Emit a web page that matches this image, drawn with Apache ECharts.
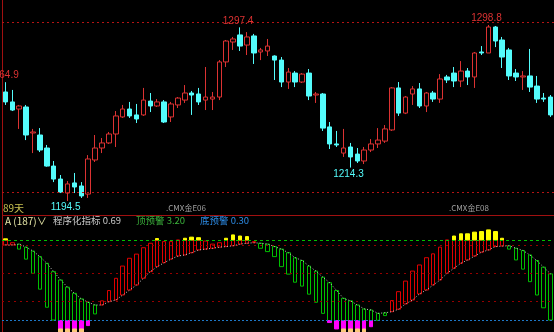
<!DOCTYPE html>
<html>
<head>
<meta charset="utf-8">
<script src="https://cdn.jsdelivr.net/npm/echarts@6/dist/echarts.min.js"></script>
<style>
html,body{margin:0;padding:0;background:#000;}
#main{width:554px;height:332px;}
</style>
</head>
<body>
<div id="main"></div>
<script>
// K线数据 (开,收,低,高)
var days = [];
for (var d = 1; d <= 80; d++) days.push(String(d));

var candleOpen = [1259.1,1253.2,1249.0,1250.2,1234.8,1233.6,1225.9,1215.2,1207.5,1199.2,
  1205.2,1203.4,1198.6,1218.8,1225.9,1228.9,1234.2,1244.3,1249.0,1245.5,
  1245.5,1253.7,1250.8,1253.2,1244.3,1251.4,1254.3,1258.5,1257.9,1254.3,
  1254.9,1256.1,1276.9,1288.7,1292.9,1286.9,1292.3,1282.8,1283.4,1280.4,
  1278.0,1265.0,1270.3,1265.0,1270.3,1257.3,1257.9,1238.4,1228.3,1222.9,
  1226.5,1222.3,1218.2,1224.7,1228.3,1230.0,1236.6,1261.5,1246.6,1257.9,
  1260.9,1250.8,1258.5,1254.9,1268.0,1270.3,1265.6,1271.5,1268.0,1282.8,
  1282.2,1297.6,1289.9,1284.0,1270.3,1268.0,1268.6,1262.6,1255.5,1256.1];
var candleClose = [1253.2,1248.4,1250.8,1233.6,1235.4,1224.7,1215.2,1207.5,1199.8,1204.6,
  1202.8,1197.5,1219.4,1225.9,1228.9,1234.2,1244.9,1249.0,1244.9,1243.1,
  1254.3,1250.8,1253.2,1241.3,1252.0,1255.5,1258.5,1257.3,1253.2,1256.1,
  1256.1,1276.9,1289.3,1290.5,1286.3,1291.7,1282.2,1284.0,1286.3,1278.0,
  1265.0,1270.9,1265.0,1269.7,1256.7,1257.9,1237.7,1228.3,1227.7,1225.9,
  1220.6,1218.2,1224.7,1228.3,1230.6,1237.2,1261.5,1246.6,1256.1,1260.9,
  1250.8,1258.5,1254.9,1266.8,1266.2,1265.6,1271.5,1268.0,1282.2,1282.2,
  1297.6,1289.3,1279.8,1268.6,1268.0,1268.6,1262.0,1254.9,1254.9,1245.5];
var candleLow = [1251.4,1247.8,1237.2,1230.6,1222.9,1223.5,1214.8,1205.7,1199.2,1194.5,
  1199.2,1196.3,1196.3,1217.6,1222.9,1228.3,1226.5,1243.7,1243.7,1240.7,
  1244.9,1247.2,1250.2,1240.7,1241.3,1249.6,1252.6,1245.5,1251.4,1248.4,
  1248.4,1254.3,1273.9,1284.0,1283.4,1281.0,1275.7,1278.0,1280.4,1266.2,
  1262.0,1260.9,1262.0,1264.4,1254.3,1252.6,1236.0,1225.3,1226.5,1220.6,
  1214.3,1217.0,1216.4,1223.5,1225.9,1228.9,1236.0,1244.9,1246.0,1251.4,
  1249.6,1247.2,1253.2,1252.6,1264.4,1262.0,1262.0,1263.2,1261.5,1281.0,
  1282.2,1285.7,1273.3,1266.2,1265.6,1260.3,1259.1,1252.6,1253.2,1244.3];
var candleHigh = [1264.9,1260.3,1251.4,1251.4,1237.2,1237.7,1227.7,1218.2,1209.9,1206.3,
  1211.1,1205.7,1221.7,1233.6,1231.8,1235.4,1247.8,1251.4,1253.2,1252.0,
  1261.5,1258.5,1254.9,1254.3,1253.2,1256.1,1263.2,1259.7,1261.5,1273.9,
  1259.1,1278.0,1289.9,1291.7,1297.4,1294.6,1293.5,1285.2,1290.5,1280.8,
  1279.8,1273.3,1271.5,1270.3,1272.7,1259.1,1258.5,1241.3,1236.0,1237.2,
  1228.9,1225.9,1226.5,1231.2,1237.7,1239.5,1262.0,1265.0,1256.7,1262.6,
  1264.4,1259.1,1259.7,1269.7,1269.2,1273.9,1277.4,1273.3,1282.8,1286.3,
  1298.8,1298.2,1291.7,1285.2,1272.7,1271.5,1284.6,1268.6,1258.5,1257.3];

// 标注的高低点
var highMarks = [0, 34, 70];
var lowMarks = [9, 50];

// 程序化指标: 平滑线 和 指标值
var indCurve = [3.02,3.02,3.05,2.94,2.80,2.60,2.36,2.06,1.76,1.50,
  1.28,1.08,0.96,0.86,0.86,0.98,1.04,1.22,1.40,1.58,
  1.82,2.06,2.24,2.38,2.51,2.62,2.66,2.74,2.84,2.87,
  2.90,2.94,2.96,2.99,3.05,3.08,3.10,3.08,3.05,2.96,
  2.87,2.74,2.56,2.46,2.26,2.08,1.86,1.66,1.38,1.10,
  1.01,0.86,0.72,0.68,0.56,0.58,0.62,0.71,0.90,1.04,
  1.26,1.40,1.58,1.76,2.00,2.18,2.36,2.48,2.62,2.76,
  2.84,2.96,2.98,2.99,2.90,2.82,2.66,2.46,2.22,1.98];
var indValue = [3.24,3.10,2.87,2.51,2.00,1.43,0.78,0.32,-0.12,-0.12,
  -0.12,-0.12,0.12,0.54,1.01,1.38,1.82,2.26,2.54,2.69,
  2.92,3.08,3.25,3.14,3.14,3.20,3.26,3.30,3.28,3.16,
  3.05,3.10,3.26,3.38,3.34,3.32,3.14,2.90,2.78,2.60,
  2.24,1.97,1.68,1.54,1.25,0.96,0.56,0.23,0.00,-0.12,
  -0.12,-0.12,-0.12,0.08,0.31,0.48,1.02,1.34,1.72,2.08,
  2.30,2.56,2.70,2.94,3.20,3.34,3.42,3.42,3.48,3.50,
  3.56,3.50,3.26,2.87,2.48,2.15,1.70,1.22,0.76,0.32];
var topWarn = 3.20;
var bottomWarn = 0.30;
var indGridLines = [3.0, 2.0, 1.0];
var priceGridLines = [1300.4, 1199.6];

var kData = candleOpen.map(function (o, i) {
  return [o, candleClose[i], candleLow[i], candleHigh[i]];
});

// 指标的空心框, 顶部黄柱, 底部紫柱
var boxData = [], yellowData = [], pinkData = [], tipData = [];
for (var i = 0; i < indValue.length; i++) {
  var c = indCurve[i], v = indValue[i];
  var e = Math.min(Math.max(v, bottomWarn), topWarn);
  boxData.push([c, e, Math.min(c, e), Math.max(c, e)]);
  yellowData.push(v > topWarn ? [topWarn, v, topWarn, v] : '-');
  if (v < bottomWarn) {
    var m = Math.max(v, 0);
    pinkData.push([bottomWarn, m, m, bottomWarn]);
  } else {
    pinkData.push('-');
  }
  tipData.push(v < 0 ? [0, v, v, 0] : '-');
}

var red = '#dc3232';
var cyan = '#54fcfc';

var markData = [];
highMarks.forEach(function (i) {
  markData.push({coord: [days[i], candleHigh[i]], value: candleHigh[i].toFixed(1),
    label: {position: 'top', color: red}});
});
lowMarks.forEach(function (i) {
  markData.push({coord: [days[i], candleLow[i]], value: candleLow[i].toFixed(1),
    label: {position: 'bottom', color: cyan}});
});

function hLines(vals, color, type) {
  return vals.map(function (v) {
    return {yAxis: v, lineStyle: {color: color, type: type, width: 1}};
  });
}

var chart = echarts.init(document.getElementById('main'), null, {renderer: 'canvas'});
var option = {
  backgroundColor: '#000',
  animation: false,
  grid: [
    {left: 2, right: 0, top: 0, height: 215},
    {left: 2, right: 0, top: 216, height: 116}
  ],
  xAxis: [
    {type: 'category', data: days, gridIndex: 0, show: false, boundaryGap: true},
    {type: 'category', data: days, gridIndex: 1, show: false, boundaryGap: true}
  ],
  yAxis: [
    {type: 'value', gridIndex: 0, min: 1186.2, max: 1313.6, show: false, splitLine: {show: false}},
    {type: 'value', gridIndex: 1, min: -0.11, max: 4.06, show: false, splitLine: {show: false}}
  ],
  series: [
    {
      type: 'candlestick',
      xAxisIndex: 0, yAxisIndex: 0,
      data: kData,
      barWidth: 5,
      itemStyle: {color: '#000', color0: cyan, borderColor: red, borderColor0: cyan, borderWidth: 1},
      markLine: {
        silent: true, symbol: ['none', 'none'], label: {show: false},
        data: hLines(priceGridLines, '#b41414', [2, 3])
      },
      markPoint: {
        symbol: 'circle', symbolSize: 1,
        itemStyle: {color: 'rgba(0,0,0,0)'},
        label: {show: true, fontSize: 10, fontFamily: 'Liberation Sans', distance: 1, offset: [-2, 0]},
        data: markData
      }
    },
    {
      type: 'candlestick',
      xAxisIndex: 1, yAxisIndex: 1,
      data: boxData,
      barWidth: 4,
      itemStyle: {color: '#000', color0: '#000', borderColor: '#e00000', borderColor0: '#00c000', borderWidth: 1},
      markLine: {
        silent: true, symbol: ['none', 'none'], label: {show: false},
        data: [{yAxis: topWarn, lineStyle: {color: '#00c000', type: [3, 3], width: 1}}]
          .concat(hLines(indGridLines, '#960000', [2, 4]))
          .concat([{yAxis: bottomWarn, lineStyle: {color: '#1e78c8', type: [2, 2], width: 1}}])
      }
    },
    {
      type: 'candlestick', xAxisIndex: 1, yAxisIndex: 1, data: yellowData, barWidth: 4,
      itemStyle: {color: '#ffff00', borderColor: '#ffff00', color0: '#ffff00', borderColor0: '#ffff00'}
    },
    {
      type: 'candlestick', xAxisIndex: 1, yAxisIndex: 1, data: pinkData, barWidth: 4,
      itemStyle: {color: '#ff00ff', borderColor: '#ff00ff', color0: '#ff00ff', borderColor0: '#ff00ff'}
    },
    {
      type: 'candlestick', xAxisIndex: 1, yAxisIndex: 1, data: tipData, barWidth: 4,
      itemStyle: {color: '#f8c878', borderColor: '#f8c878', color0: '#f8c878', borderColor0: '#f8c878'}
    },
    {
      type: 'line', xAxisIndex: 1, yAxisIndex: 1, data: indCurve,
      showSymbol: false, symbol: 'none', z: 5,
      lineStyle: {color: '#c8c8c8', width: 1, type: [1, 2]}
    }
  ],
  graphic: [
    {type: 'line', shape: {x1: 2, y1: 215.5, x2: 554, y2: 215.5}, style: {stroke: '#a01010', lineWidth: 1}},
    {type: 'line', shape: {x1: 2.5, y1: 0, x2: 2.5, y2: 332}, style: {stroke: '#a01010', lineWidth: 1}},
    {type: 'text', left: 3, top: 203, style: {text: '89天', fill: '#c8c050', font: '10px "Noto Sans CJK SC"'}},
    {type: 'text', left: 166, top: 204, style: {text: '.CMX金E06', fill: '#a0a0a0', font: '8px "Noto Sans CJK SC"'}},
    {type: 'text', left: 449, top: 204, style: {text: '.CMX金E08', fill: '#a0a0a0', font: '8px "Noto Sans CJK SC"'}},
    {type: 'text', left: 5, top: 216, style: {text: 'A (187)∨', fill: '#e8e8a8', font: '10px "Noto Sans CJK SC"'}},
    {type: 'text', left: 53, top: 216, style: {text: '程序化指标 0.69', fill: '#c8c8c8', font: '9.5px "Noto Sans CJK SC"'}},
    {type: 'text', left: 136, top: 216, style: {text: '顶预警 3.20', fill: '#3cb43c', font: '9.5px "Noto Sans CJK SC"'}},
    {type: 'text', left: 200, top: 216, style: {text: '底预警 0.30', fill: '#2d8ce6', font: '9.5px "Noto Sans CJK SC"'}}
  ]
};
chart.setOption(option);
</script>
</body>
</html>
